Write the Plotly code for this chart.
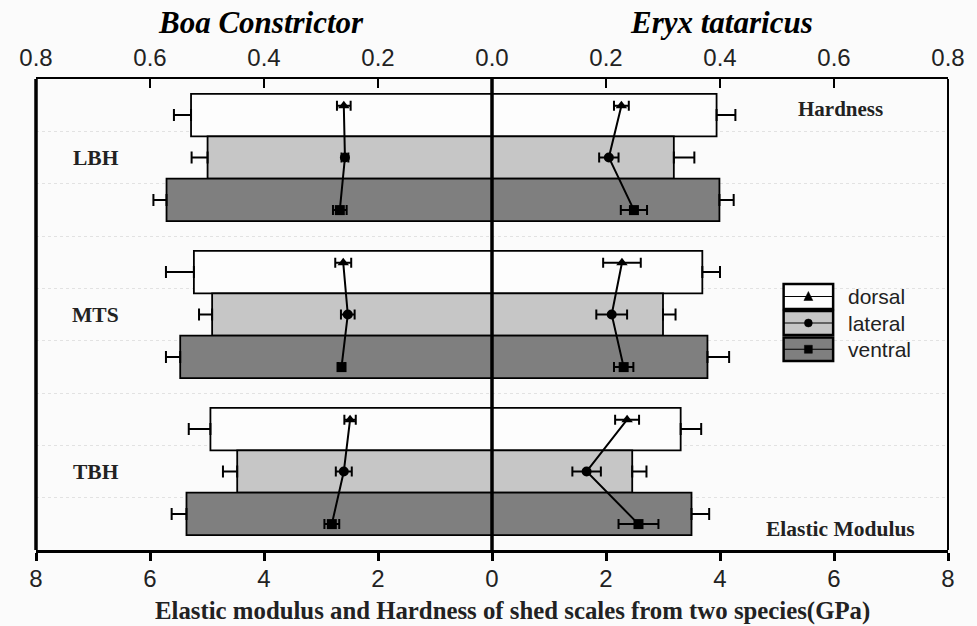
import plotly.graph_objects as go

# ---------------- data ----------------
groups = ["LBH", "MTS", "TBH"]
positions = ["dorsal", "lateral", "ventral"]

# Elastic modulus (GPa) - bars, bottom axis
boa_modulus = {
    "dorsal":  [5.28, 5.23, 4.94],
    "lateral": [4.99, 4.91, 4.47],
    "ventral": [5.71, 5.47, 5.36],
}
boa_modulus_err = {
    "dorsal":  [0.30, 0.49, 0.38],
    "lateral": [0.28, 0.23, 0.25],
    "ventral": [0.23, 0.25, 0.26],
}
eryx_modulus = {
    "dorsal":  [3.94, 3.69, 3.31],
    "lateral": [3.19, 3.00, 2.46],
    "ventral": [3.99, 3.78, 3.50],
}
eryx_modulus_err = {
    "dorsal":  [0.33, 0.31, 0.36],
    "lateral": [0.36, 0.22, 0.25],
    "ventral": [0.25, 0.38, 0.31],
}

# Hardness (GPa) - lines with markers, top axis
# per group: [dorsal, lateral, ventral]
boa_hardness = {
    "LBH": [0.260, 0.258, 0.267],
    "MTS": [0.261, 0.253, 0.264],
    "TBH": [0.249, 0.260, 0.281],
}
boa_hardness_err = {
    "LBH": [0.012, 0.006, 0.012],
    "MTS": [0.014, 0.012, 0.006],
    "TBH": [0.010, 0.014, 0.013],
}
eryx_hardness = {
    "LBH": [0.227, 0.205, 0.249],
    "MTS": [0.228, 0.210, 0.231],
    "TBH": [0.237, 0.166, 0.257],
}
eryx_hardness_err = {
    "LBH": [0.013, 0.017, 0.023],
    "MTS": [0.033, 0.027, 0.017],
    "TBH": [0.021, 0.025, 0.035],
}

modulus_ticks = [-8, -6, -4, -2, 0, 2, 4, 6, 8]
modulus_ticktext = ["8", "6", "4", "2", "0", "2", "4", "6", "8"]
hardness_ticks = [-0.8, -0.6, -0.4, -0.2, 0.0, 0.2, 0.4, 0.6, 0.8]
hardness_ticktext = ["0.8", "0.6", "0.4", "0.2", "0.0", "0.2", "0.4", "0.6", "0.8"]

# ---------------- styling ----------------
fills = {"dorsal": "#fdfdfd", "lateral": "#c6c6c6", "ventral": "#7f7f7f"}
symbols = {"dorsal": "triangle-up", "lateral": "circle", "ventral": "square"}
bar_off = {"dorsal": -0.27, "lateral": 0.0, "ventral": 0.27}
mark_off = [-0.33, 0.0, 0.335]
BAR_W = 0.27
SERIF = "Liberation Serif, Times New Roman, serif"
SANS = "Liberation Sans, Arial, sans-serif"

W, H = 977, 626
L, R, T, B = 36, 20, 79, 76
PW, PH = W - L - R, H - T - B


def px(x):
    return (x - L) / PW


def py(y):
    return (H - B - y) / PH


fig = go.Figure()

# bars
for p in positions:
    ys = [g + bar_off[p] for g in range(len(groups))]
    fig.add_trace(go.Bar(
        x=[-v for v in boa_modulus[p]], y=ys, orientation="h", width=BAR_W,
        marker=dict(color=fills[p], line=dict(color="black", width=1.8)),
        error_x=dict(type="data", array=[0] * 3, arrayminus=boa_modulus_err[p],
                     symmetric=False, color="black", thickness=2, width=6),
        showlegend=False, xaxis="x", yaxis="y",
    ))
    fig.add_trace(go.Bar(
        x=eryx_modulus[p], y=ys, orientation="h", width=BAR_W,
        marker=dict(color=fills[p], line=dict(color="black", width=1.8)),
        error_x=dict(type="data", array=eryx_modulus_err[p], arrayminus=[0] * 3,
                     symmetric=False, color="black", thickness=2, width=6),
        showlegend=False, xaxis="x", yaxis="y",
    ))

# hardness lines
for gi, g in enumerate(groups):
    ys = [gi + o for o in mark_off]
    for vals, errs, sign in ((boa_hardness[g], boa_hardness_err[g], -1),
                             (eryx_hardness[g], eryx_hardness_err[g], 1)):
        fig.add_trace(go.Scatter(
            x=[sign * v for v in vals], y=ys, mode="lines+markers",
            line=dict(color="black", width=2),
            marker=dict(color="black", size=10,
                        symbol=[symbols[p] for p in positions]),
            error_x=dict(type="data", array=errs, color="black",
                         thickness=2, width=5),
            showlegend=False, xaxis="x2", yaxis="y",
        ))

grid_vals = [k / 3 - 1 / 6 for k in range(8)]

fig.update_layout(
    width=W, height=H,
    margin=dict(l=L, r=R, t=T, b=B),
    paper_bgcolor="#fbfbfb", plot_bgcolor="#fbfbfb",
    barmode="overlay",
    xaxis=dict(range=[-8, 8], tickvals=modulus_ticks, ticktext=modulus_ticktext,
               ticks="outside", ticklen=8, tickwidth=3, tickcolor="black",
               showline=True, linewidth=3, linecolor="black",
               showgrid=False, zeroline=False, ticklabelstandoff=-3,
               tickfont=dict(family=SANS, size=24, color="#222")),
    xaxis2=dict(range=[-0.8, 0.8], tickvals=hardness_ticks, ticktext=hardness_ticktext,
                overlaying="x", side="top", anchor="y",
                ticks="inside", ticklen=9, tickwidth=2, tickcolor="black",
                showline=True, linewidth=2, linecolor="black",
                showgrid=False, zeroline=False, ticklabelstandoff=1,
                tickfont=dict(family=SANS, size=24, color="#222")),
    yaxis=dict(range=[2.5, -0.5], tickvals=grid_vals, showticklabels=False,
               ticks="", showgrid=True, gridcolor="#e2e2e2", griddash="dot",
               gridwidth=1, zeroline=False, showline=False),
    font=dict(family=SERIF, color="black"),
)

shapes = [
    # left border, right border
    dict(type="line", xref="paper", yref="paper", x0=0, x1=0, y0=0, y1=1,
         line=dict(color="black", width=3.5)),
    dict(type="line", xref="paper", yref="paper", x0=1, x1=1, y0=0, y1=1,
         line=dict(color="black", width=2)),
    # centre line
    dict(type="line", xref="x", yref="paper", x0=0, x1=0, y0=0, y1=1,
         line=dict(color="black", width=3.5)),
]

# legend (custom, drawn)
leg_x0, leg_x1 = 791, 841
leg_rows = [(284, 309), (311, 335), (337.5, 361)]
annotations = []
for p, (y0, y1) in zip(positions, leg_rows):
    shapes.append(dict(type="rect", xref="paper", yref="paper",
                       x0=px(leg_x0), x1=px(leg_x1), y0=py(y1), y1=py(y0),
                       fillcolor=fills[p], line=dict(color="black", width=2.5)))
    ym = (y0 + y1) / 2
    shapes.append(dict(type="line", xref="paper", yref="paper",
                       x0=px(leg_x0), x1=px(leg_x1), y0=py(ym), y1=py(ym),
                       line=dict(color="black", width=1.2)))
    cx = (leg_x0 + leg_x1) / 2
    if p == "dorsal":
        path = "M {} {} L {} {} L {} {} Z".format(
            px(cx - 4.5), py(ym + 4), px(cx + 4.5), py(ym + 4), px(cx), py(ym - 5))
        shapes.append(dict(type="path", xref="paper", yref="paper", path=path,
                           fillcolor="black", line=dict(color="black", width=0.5)))
    elif p == "lateral":
        shapes.append(dict(type="circle", xref="paper", yref="paper",
                           x0=px(cx - 4), x1=px(cx + 4), y0=py(ym + 4), y1=py(ym - 4),
                           fillcolor="black", line=dict(color="black", width=0.5)))
    else:
        shapes.append(dict(type="rect", xref="paper", yref="paper",
                           x0=px(cx - 4), x1=px(cx + 4), y0=py(ym + 4), y1=py(ym - 4),
                           fillcolor="black", line=dict(color="black", width=0.5)))
    annotations.append(dict(text=p, xref="paper", yref="paper", x=px(854), y=py(ym),
                            xanchor="left", yanchor="middle", showarrow=False,
                            font=dict(family=SANS, size=21, color="#222")))

# group labels
for gi, g in enumerate(groups):
    annotations.append(dict(text="<b>%s</b>" % g, xref="x", yref="y", x=-6.95, y=gi,
                            xanchor="center", yanchor="middle", showarrow=False,
                            font=dict(family=SERIF, size=21.5, color="#222")))

annotations += [
    dict(text="<b>Hardness</b>", xref="paper", yref="paper", x=px(848), y=py(109),
         xanchor="center", yanchor="middle", showarrow=False,
         font=dict(family=SERIF, size=21, color="#222")),
    dict(text="<b>Elastic Modulus</b>", xref="paper", yref="paper", x=px(848), y=py(529),
         xanchor="center", yanchor="middle", showarrow=False,
         font=dict(family=SERIF, size=21.5, color="#222")),
    dict(text="<b><i>Boa Constrictor</i></b>", xref="paper", yref="paper",
         x=px(263), y=py(22), xanchor="center", yanchor="middle", showarrow=False,
         font=dict(family=SERIF, size=31, color="black")),
    dict(text="<b><i>Eryx tataricus</i></b>", xref="paper", yref="paper",
         x=px(728), y=py(22), xanchor="center", yanchor="middle", showarrow=False,
         font=dict(family=SERIF, size=31, color="black")),
    dict(text="<b>Elastic modulus and Hardness of shed scales from two species(GPa)</b>",
         xref="paper", yref="paper", x=px(517), y=py(611), xanchor="center",
         yanchor="middle", showarrow=False,
         font=dict(family=SERIF, size=24.8, color="#222")),
]

fig.update_layout(shapes=shapes, annotations=annotations)
fig.write_html("out.html")
